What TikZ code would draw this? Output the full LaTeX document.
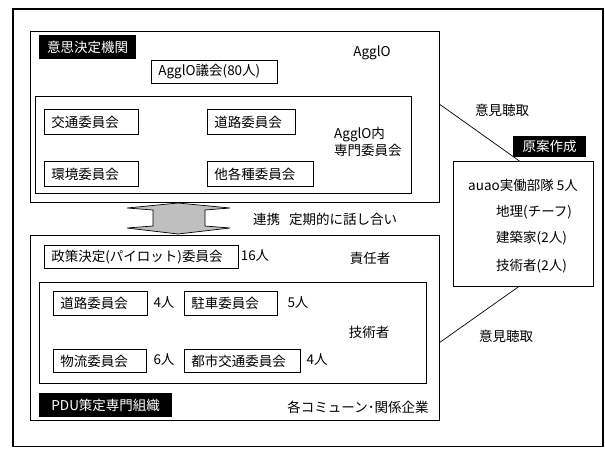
\documentclass[tikz,border=0pt]{standalone}
\usepackage{fontspec}
\setmainfont{Noto Sans CJK JP}
\begin{document}
\begin{tikzpicture}[x=1pt,y=-1pt,
  font=\fontsize{13.5}{17}\selectfont,
  frm/.style={draw=black, line width=0.8pt, anchor=north west, inner sep=0pt},
  tb/.style 2 args={draw=black, line width=0.8pt, anchor=north west, inner xsep=7pt, inner ysep=0pt, text width=#1, minimum height=#2, align=left},
  blk/.style 2 args={fill=black, text=white, anchor=north west, inner sep=0pt, minimum width=#1, minimum height=#2},
  lbl/.style={inner sep=0pt},
  conn/.style={draw=black, line width=0.7pt}
]
\useasboundingbox (0,0) rectangle (605,448);
% outer frame
\draw[line width=1.8pt] (13,9) rectangle (603,446.5);

% AgglO block
\node[frm, minimum width=409, minimum height=171] (agg) at (30,31) {};
\node[blk={97}{24}] (decl) at (39,35) {意思決定機関};
\node[lbl] (aggtxt) at (372,53) {AgglO};
\node[tb={112}{23}] (council) at (151,60) {AgglO議会(80人)};
\node[frm, minimum width=376, minimum height=97] (agginner) at (35,96) {};
\node[tb={80}{25}] (kotsu) at (44,109) {交通委員会};
\node[tb={74}{25}] (doro) at (207,109) {道路委員会};
\node[tb={80}{25}] (kankyo) at (44,161) {環境委員会};
\node[tb={92}{25}] (tagaku) at (207,161) {他各種委員会};
\node[lbl, anchor=west, align=left] (senmon) at (334,142) {AgglO内\\専門委員会};

% double arrow
\path[draw=black, line width=0.7pt, fill=black!25] (178,203) -- (230,208) -- (205,210) -- (205,226) -- (230,228) -- (178,234) -- (127,228) -- (153,226) -- (153,210) -- (127,208) -- cycle;
\node[lbl, anchor=west] (renkei) at (253,219) {連携\hspace{9pt}定期的に話し合い};

% PDU block
\node[frm, minimum width=409, minimum height=185] (pdu) at (30,235) {};
\node[tb={180}{23}] (seisaku) at (44,245) {政策決定(パイロット)委員会};
\node[lbl] (n16) at (255,256) {16人};
\node[lbl] (sekinin) at (370,258) {責任者};
\node[frm, minimum width=387, minimum height=101] (pinner) at (39,282) {};
\node[tb={80}{24}] (doro2) at (53,291) {道路委員会};
\node[lbl] (n4a) at (164,303) {4人};
\node[tb={79}{24}] (chusha) at (184,291) {駐車委員会};
\node[lbl] (n5) at (298,303) {5人};
\node[lbl] (gijutsu) at (369,332) {技術者};
\node[tb={79}{23}] (butsuryu) at (53,349) {物流委員会};
\node[lbl] (n6) at (164,360) {6人};
\node[tb={102}{23}] (toshi) at (184,349) {都市交通委員会};
\node[lbl] (n4b) at (317,360) {4人};
\node[blk={133}{24}] (pdulbl) at (39,393) {PDU策定専門組織};
\node[lbl] (kigyo) at (358,407) {各コミューン･関係企業};

% right side
\node[lbl] (iken1) at (502,110) {意見聴取};
\node[blk={73}{21}] (gen) at (513,136) {原案作成};
\node[frm, minimum width=140, minimum height=125] (auao) at (453,161) {};
\node[lbl] (auaotxt) at (523,185) {auao実働部隊 5人};
\node[lbl, anchor=west] (chiri) at (496,212) {地理(チーフ)};
\node[lbl, anchor=west] (kenchiku) at (496,238) {建築家(2人)};
\node[lbl, anchor=west] (gijutsu2) at (496,266) {技術者(2人)};
\node[lbl] (iken2) at (506,336) {意見聴取};

% connectors
\draw[conn] ([yshift=12.5pt]agg.east) -- ([xshift=-4pt]auao.north);
\draw[conn] ([yshift=-14.5pt]pdu.east) -- ([xshift=-5pt]auao.south);
\end{tikzpicture}
\end{document}
